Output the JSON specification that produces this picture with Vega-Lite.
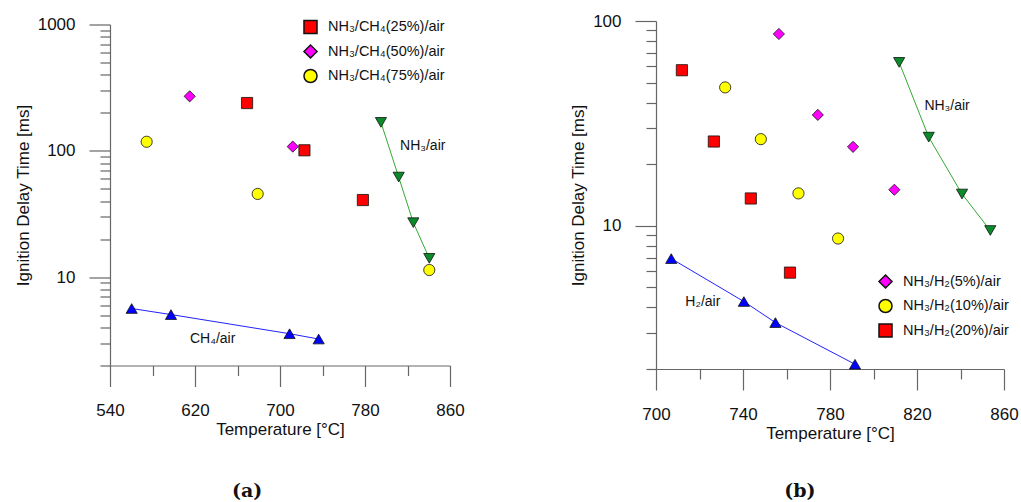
{
  "$schema": "https://vega.github.io/schema/vega-lite/v6.json",
  "padding": {"left": 14, "top": 12, "right": 5, "bottom": 0},
  "background": "white",
  "spacing": 206,
  "bounds": "flush",
  "center": true,
  "config": {
    "view": {"stroke": null},
    "font": "Liberation Sans",
    "axis": {
      "grid": false,
      "domainColor": "#666666",
      "tickColor": "#666666",
      "domainWidth": 1.2,
      "tickWidth": 1.2,
      "labelFontSize": 17,
      "labelColor": "#111111",
      "labelFlush": false,
      "labelOverlap": false,
      "titleFontSize": 17,
      "titleFontWeight": "normal",
      "titleColor": "#111111",
      "labelFont": "Liberation Sans",
      "titleFont": "Liberation Sans"
    },
    "legend": {"padding": 0}
  },
  "datasets": {
    "a": [
      {"T": 669, "t": 239, "s": "NH₃/CH₄(25%)/air"},
      {"T": 723, "t": 101, "s": "NH₃/CH₄(25%)/air"},
      {"T": 778, "t": 40.8, "s": "NH₃/CH₄(25%)/air"},
      {"T": 615, "t": 270, "s": "NH₃/CH₄(50%)/air"},
      {"T": 712, "t": 108, "s": "NH₃/CH₄(50%)/air"},
      {"T": 574.5, "t": 118, "s": "NH₃/CH₄(75%)/air"},
      {"T": 679, "t": 45.6, "s": "NH₃/CH₄(75%)/air"},
      {"T": 840.5, "t": 11.4, "s": "NH₃/CH₄(75%)/air"},
      {"T": 795, "t": 168, "s": "NH₃/air"},
      {"T": 811.7, "t": 62, "s": "NH₃/air"},
      {"T": 825.5, "t": 27, "s": "NH₃/air"},
      {"T": 840.5, "t": 14.1, "s": "NH₃/air"},
      {"T": 560.4, "t": 5.65, "s": "CH₄/air"},
      {"T": 597.4, "t": 5.06, "s": "CH₄/air"},
      {"T": 709, "t": 3.57, "s": "CH₄/air"},
      {"T": 736.4, "t": 3.24, "s": "CH₄/air"}
    ],
    "b": [
      {"T": 756.5, "t": 86.4, "s": "NH₃/H₂(5%)/air"},
      {"T": 774.4, "t": 34.8, "s": "NH₃/H₂(5%)/air"},
      {"T": 790.6, "t": 24.3, "s": "NH₃/H₂(5%)/air"},
      {"T": 809.6, "t": 15.0, "s": "NH₃/H₂(5%)/air"},
      {"T": 731.8, "t": 47.4, "s": "NH₃/H₂(10%)/air"},
      {"T": 748.2, "t": 26.5, "s": "NH₃/H₂(10%)/air"},
      {"T": 765.5, "t": 14.4, "s": "NH₃/H₂(10%)/air"},
      {"T": 783.7, "t": 8.67, "s": "NH₃/H₂(10%)/air"},
      {"T": 711.9, "t": 57.5, "s": "NH₃/H₂(20%)/air"},
      {"T": 726.6, "t": 25.8, "s": "NH₃/H₂(20%)/air"},
      {"T": 743.6, "t": 13.6, "s": "NH₃/H₂(20%)/air"},
      {"T": 761.6, "t": 5.91, "s": "NH₃/H₂(20%)/air"},
      {"T": 811.8, "t": 62.8, "s": "NH₃/air"},
      {"T": 825.4, "t": 27.1, "s": "NH₃/air"},
      {"T": 840.7, "t": 14.3, "s": "NH₃/air"},
      {"T": 853.7, "t": 9.49, "s": "NH₃/air"},
      {"T": 707, "t": 6.92, "s": "H₂/air"},
      {"T": 740.4, "t": 4.27, "s": "H₂/air"},
      {"T": 754.9, "t": 3.37, "s": "H₂/air"},
      {"T": 791.5, "t": 2.11, "s": "H₂/air"}
    ],
    "la": [
      {"T": 813, "t": 110, "label": "NH₃/air"},
      {"T": 615.3, "t": 3.24, "label": "CH₄/air"}
    ],
    "lb": [
      {"T": 823.4, "t": 38.3, "label": "NH₃/air"},
      {"T": 713.5, "t": 4.24, "label": "H₂/air"}
    ]
  },
  "hconcat": [
    {
      "width": 340,
      "height": 341,
      "title": {"text": "(a)", "orient": "bottom", "frame": "bounds", "font": "DejaVu Serif", "fontSize": 19, "fontWeight": "bold", "color": "#111111", "offset": 44, "dx": 8},
      "layer": [
        {
          "data": {"name": "a"},
          "transform": [{"filter": "datum.s == 'NH₃/air'"}],
          "mark": {"type": "line", "color": "#33AA33", "strokeWidth": 1},
          "encoding": {
            "x": {"field": "T", "type": "quantitative", "scale": {"domain": [540, 860], "nice": false, "zero": false}},
            "y": {"field": "t", "type": "quantitative", "scale": {"type": "log", "domain": [2, 1000], "nice": false}}
          }
        },
        {
          "data": {"name": "a"},
          "transform": [{"filter": "datum.s == 'CH₄/air'"}],
          "mark": {"type": "line", "color": "#2222FF", "strokeWidth": 1},
          "encoding": {
            "x": {"field": "T", "type": "quantitative"},
            "y": {"field": "t", "type": "quantitative"}
          }
        },
        {
          "data": {"name": "a"},
          "mark": {"type": "point", "filled": true, "size": 125, "stroke": "#111111", "strokeWidth": 0.8, "opacity": 1},
          "encoding": {
            "x": {
              "field": "T", "type": "quantitative",
              "axis": {
                "title": "Temperature [°C]",
                "values": [540, 580, 620, 660, 700, 740, 780, 820, 860],
                "labelExpr": "(datum.value - 540) % 80 == 0 ? toString(datum.value) : ''",
                "tickSize": {"condition": {"test": "(datum.value - 540) % 80 == 0", "value": 21}, "value": 10},
                "labelPadding": 16,
                "titlePadding": 3
              }
            },
            "y": {
              "field": "t", "type": "quantitative",
              "axis": {
                "title": "Ignition Delay Time [ms]",
                "values": [2, 3, 4, 5, 6, 7, 8, 9, 10, 20, 30, 40, 50, 60, 70, 80, 90, 100, 200, 300, 400, 500, 600, 700, 800, 900, 1000],
                "labelExpr": "(datum.value == 10 || datum.value == 100 || datum.value == 1000) ? toString(datum.value) : ''",
                "tickSize": {"condition": {"test": "datum.value == 10 || datum.value == 100 || datum.value == 1000", "value": 21}, "value": 10},
                "labelPadding": 14,
                "titlePadding": 5
              }
            },
            "color": {
              "field": "s", "type": "nominal",
              "scale": {
                "domain": ["NH₃/CH₄(25%)/air", "NH₃/CH₄(50%)/air", "NH₃/CH₄(75%)/air", "NH₃/air", "CH₄/air"],
                "range": ["#FF0000", "#FF00FF", "#FFFF00", "#0B8A2A", "#0000FF"]
              },
              "legend": {
                "title": null,
                "values": ["NH₃/CH₄(25%)/air", "NH₃/CH₄(50%)/air", "NH₃/CH₄(75%)/air"],
                "orient": "none", "legendX": 193, "legendY": -5,
                "symbolSize": 170, "labelFontSize": 14.5, "labelColor": "#111111", "labelOffset": 10, "rowPadding": 3.5,
                "encode": {"symbols": {"update": {"stroke": {"value": "#111111"}, "strokeWidth": {"value": 1}}}}
              }
            },
            "shape": {
              "field": "s", "type": "nominal",
              "scale": {
                "domain": ["NH₃/CH₄(25%)/air", "NH₃/CH₄(50%)/air", "NH₃/CH₄(75%)/air", "NH₃/air", "CH₄/air"],
                "range": ["square", "diamond", "circle", "triangle-down", "triangle-up"]
              },
              "legend": {
                "title": null,
                "values": ["NH₃/CH₄(25%)/air", "NH₃/CH₄(50%)/air", "NH₃/CH₄(75%)/air"],
                "orient": "none", "legendX": 193, "legendY": -5,
                "symbolSize": 170, "labelFontSize": 14.5, "labelColor": "#111111", "labelOffset": 10, "rowPadding": 3.5,
                "encode": {"symbols": {"update": {"stroke": {"value": "#111111"}, "strokeWidth": {"value": 1}}}}
              }
            }
          }
        },
        {
          "data": {"name": "la"},
          "mark": {"type": "text", "align": "left", "baseline": "middle", "fontSize": 14, "color": "#111111"},
          "encoding": {
            "x": {"field": "T", "type": "quantitative"},
            "y": {"field": "t", "type": "quantitative"},
            "text": {"field": "label"}
          }
        }
      ]
    },
    {
      "width": 348,
      "height": 348,
      "title": {"text": "(b)", "orient": "bottom", "frame": "bounds", "font": "DejaVu Serif", "fontSize": 19, "fontWeight": "bold", "color": "#111111", "offset": 41, "dx": 6},
      "layer": [
        {
          "data": {"name": "b"},
          "transform": [{"filter": "datum.s == 'NH₃/air'"}],
          "mark": {"type": "line", "color": "#33AA33", "strokeWidth": 1},
          "encoding": {
            "x": {"field": "T", "type": "quantitative", "scale": {"domain": [700, 860], "nice": false, "zero": false}},
            "y": {"field": "t", "type": "quantitative", "scale": {"type": "log", "domain": [2, 100], "nice": false}}
          }
        },
        {
          "data": {"name": "b"},
          "transform": [{"filter": "datum.s == 'H₂/air'"}],
          "mark": {"type": "line", "color": "#2222FF", "strokeWidth": 1},
          "encoding": {
            "x": {"field": "T", "type": "quantitative"},
            "y": {"field": "t", "type": "quantitative"}
          }
        },
        {
          "data": {"name": "b"},
          "mark": {"type": "point", "filled": true, "size": 125, "stroke": "#111111", "strokeWidth": 0.8, "opacity": 1},
          "encoding": {
            "x": {
              "field": "T", "type": "quantitative",
              "axis": {
                "title": "Temperature [°C]",
                "values": [700, 720, 740, 760, 780, 800, 820, 840, 860],
                "labelExpr": "(datum.value - 700) % 40 == 0 ? toString(datum.value) : ''",
                "tickSize": {"condition": {"test": "(datum.value - 700) % 40 == 0", "value": 21}, "value": 10},
                "labelPadding": 16,
                "titlePadding": 3
              }
            },
            "y": {
              "field": "t", "type": "quantitative",
              "axis": {
                "title": "Ignition Delay Time [ms]",
                "values": [2, 3, 4, 5, 6, 7, 8, 9, 10, 20, 30, 40, 50, 60, 70, 80, 90, 100],
                "labelExpr": "(datum.value == 10 || datum.value == 100) ? toString(datum.value) : ''",
                "tickSize": {"condition": {"test": "datum.value == 10 || datum.value == 100", "value": 21}, "value": 10},
                "labelPadding": 14,
                "titlePadding": 5
              }
            },
            "color": {
              "field": "s", "type": "nominal",
              "scale": {
                "domain": ["NH₃/H₂(5%)/air", "NH₃/H₂(10%)/air", "NH₃/H₂(20%)/air", "NH₃/air", "H₂/air"],
                "range": ["#FF00FF", "#FFFF00", "#FF0000", "#0B8A2A", "#0000FF"]
              },
              "legend": {
                "title": null,
                "values": ["NH₃/H₂(5%)/air", "NH₃/H₂(10%)/air", "NH₃/H₂(20%)/air"],
                "orient": "none", "legendX": 222, "legendY": 253,
                "symbolSize": 170, "labelFontSize": 14.5, "labelColor": "#111111", "labelOffset": 10, "rowPadding": 3.5,
                "encode": {"symbols": {"update": {"stroke": {"value": "#111111"}, "strokeWidth": {"value": 1}}}}
              }
            },
            "shape": {
              "field": "s", "type": "nominal",
              "scale": {
                "domain": ["NH₃/H₂(5%)/air", "NH₃/H₂(10%)/air", "NH₃/H₂(20%)/air", "NH₃/air", "H₂/air"],
                "range": ["diamond", "circle", "square", "triangle-down", "triangle-up"]
              },
              "legend": {
                "title": null,
                "values": ["NH₃/H₂(5%)/air", "NH₃/H₂(10%)/air", "NH₃/H₂(20%)/air"],
                "orient": "none", "legendX": 222, "legendY": 253,
                "symbolSize": 170, "labelFontSize": 14.5, "labelColor": "#111111", "labelOffset": 10, "rowPadding": 3.5,
                "encode": {"symbols": {"update": {"stroke": {"value": "#111111"}, "strokeWidth": {"value": 1}}}}
              }
            }
          }
        },
        {
          "data": {"name": "lb"},
          "mark": {"type": "text", "align": "left", "baseline": "middle", "fontSize": 14, "color": "#111111"},
          "encoding": {
            "x": {"field": "T", "type": "quantitative"},
            "y": {"field": "t", "type": "quantitative"},
            "text": {"field": "label"}
          }
        }
      ]
    }
  ],
  "resolve": {"scale": {"color": "independent", "shape": "independent", "x": "independent", "y": "independent"}}
}
